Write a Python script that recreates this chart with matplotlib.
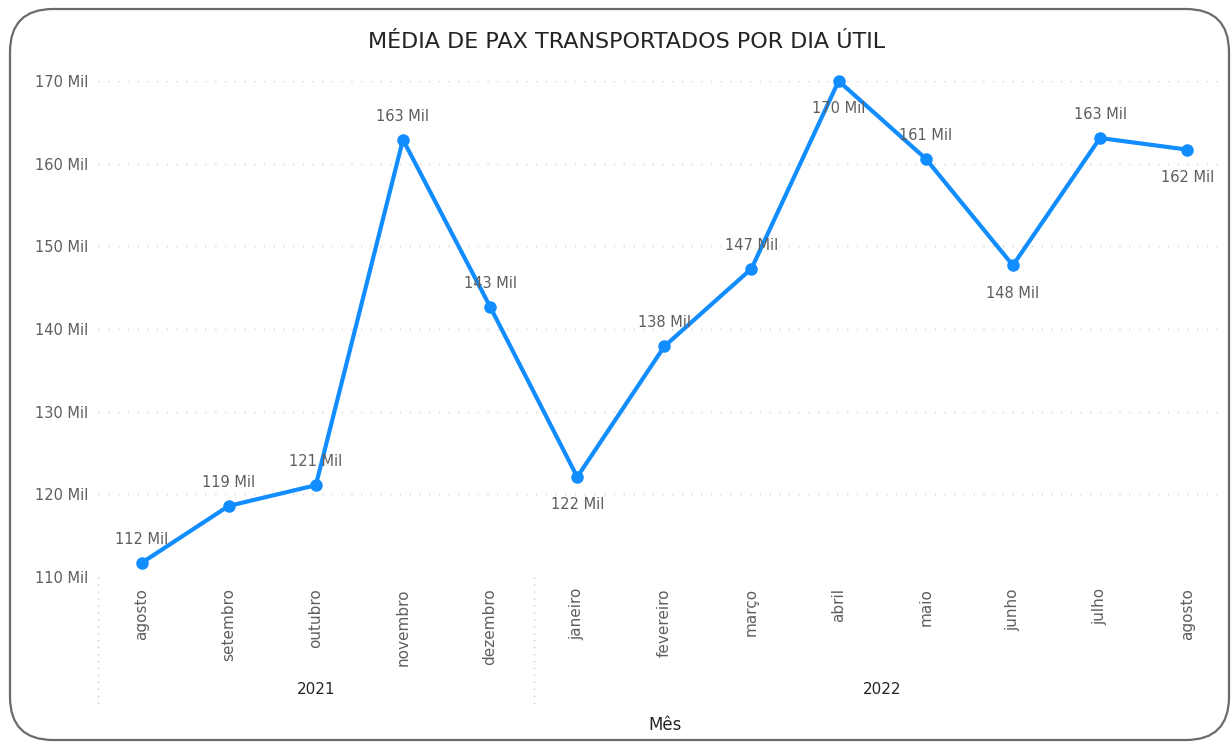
import matplotlib
matplotlib.use("Agg")
import matplotlib.pyplot as plt
from matplotlib.patches import FancyBboxPatch
from matplotlib.transforms import blended_transform_factory

months = ["agosto", "setembro", "outubro", "novembro", "dezembro",
          "janeiro", "fevereiro", "março", "abril", "maio", "junho", "julho", "agosto"]
years = ["2021"] * 5 + ["2022"] * 8
values = [111.7, 118.6, 121.1, 162.9, 142.7, 122.1, 137.9, 147.3, 170.0, 160.6, 147.7, 163.1, 161.7]
labels = ["112 Mil", "119 Mil", "121 Mil", "163 Mil", "143 Mil", "122 Mil", "138 Mil",
          "147 Mil", "170 Mil", "161 Mil", "148 Mil", "163 Mil", "162 Mil"]
label_pos = ["above", "above", "above", "above", "above", "below", "above",
             "above", "below", "above", "below", "above", "below"]
yticks = [110, 120, 130, 140, 150, 160, 170]
ytick_labels = ["110 Mil", "120 Mil", "130 Mil", "140 Mil", "150 Mil", "160 Mil", "170 Mil"]

W, H = 1231, 748
fig = plt.figure(figsize=(W / 100, H / 100), dpi=100)
fig.patch.set_facecolor("white")

# rounded border
border = FancyBboxPatch((10 / W, 8 / H), 1219 / W, 731 / H,
                        boxstyle="round,pad=0,rounding_size=0.035",
                        transform=fig.transFigure, facecolor="none",
                        edgecolor="#6b6b6b", linewidth=1.6, mutation_aspect=W / H)
fig.patches.append(border)

ax = fig.add_axes([98 / W, 1 - 577 / H, (1222 - 98) / W, (577 - 81) / H])
x = list(range(len(values)))
ax.plot(x, values, color="#118DFF", linewidth=3, marker="o", markersize=8,
        clip_on=False, zorder=3)
ax.set_xlim(-0.5, 12.4)
ax.set_ylim(110, 170)
ax.set_yticks(yticks)
ax.set_yticklabels(ytick_labels)
ax.tick_params(axis="y", length=0, pad=7, labelsize=10.5, labelcolor="#605E5C")
ax.set_xticks(x)
ax.set_xticklabels(months, rotation=90, va="top", ha="center")
ax.tick_params(axis="x", length=0, pad=8, labelsize=11, labelcolor="#605E5C")
for s in ax.spines.values():
    s.set_visible(False)
ax.grid(axis="y", color="#cfcfcf", linestyle=(0, (1, 6)), linewidth=1)
ax.set_axisbelow(True)

for xi, v, lab, pos in zip(x, values, labels, label_pos):
    off = 17 if pos == "above" else -20
    ax.annotate(lab, (xi, v), xytext=(0, off), textcoords="offset points",
                ha="center", va="center", fontsize=10.5, color="#605E5C", zorder=4)

# year groups
trans = blended_transform_factory(ax.transData, fig.transFigure)
y0, y1 = 1 - 577 / H, 1 - 705 / H
for xb in [-0.5, 4.5]:
    ax.plot([xb, xb], [y0, y1], transform=trans, color="#c8c8c8",
            linestyle=(0, (1, 4)), linewidth=1, clip_on=False)
groups = {}
for xi, yr in zip(x, years):
    groups.setdefault(yr, []).append(xi)
for yr, xs in groups.items():
    cx = (min(xs) + max(xs)) / 2
    ax.text(cx, 1 - 690 / H, yr, transform=trans, ha="center", va="center",
            fontsize=11, color="#252423")

fig.text(665 / W, 1 - 725 / H, "Mês", ha="center", va="center", fontsize=12,
         color="#252423")
fig.text(627 / W, 1 - 42 / H, "MÉDIA DE PAX TRANSPORTADOS POR DIA ÚTIL",
         ha="center", va="center", fontsize=16, color="#252423")

fig.savefig("out.png", dpi=100, facecolor="white")
